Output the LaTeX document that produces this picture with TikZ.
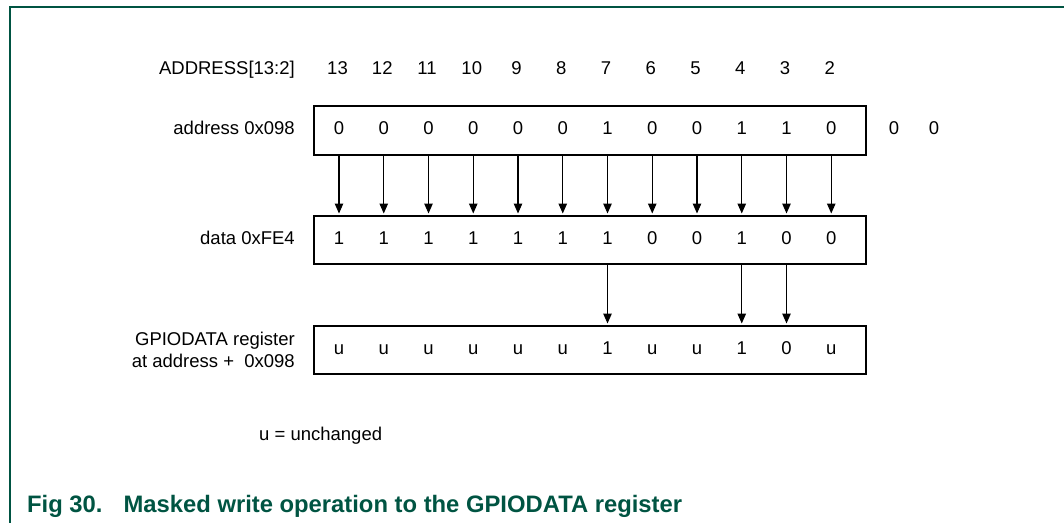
\documentclass[tikz,border=0pt]{standalone}
\usepackage{fontspec}
\setmainfont{Liberation Sans}
\usetikzlibrary{arrows.meta}
\definecolor{nxpgreen}{RGB}{0,84,66}
\begin{document}
\begin{tikzpicture}[x=1pt,y=-1pt,
  txt/.style={font=\fontsize{18.5}{22}\selectfont, inner sep=0pt, anchor=base},
  lbl/.style={txt, anchor=base east},
  regbox/.style={draw, line width=2pt, minimum width=552pt, minimum height=48.5pt, inner sep=0pt, anchor=north west},
  bitarrow/.style={line width=1.1pt, -{Triangle[length=10pt,width=8.5pt]}, shorten >=1pt},
  frameline/.style={draw=nxpgreen, line width=1.5pt},
]
\useasboundingbox (0,0) rectangle (1064,523);
\draw[frameline] (1064,7) -- (10,7) -- (10,523);

\node[regbox] (A) at (313,105) {};
\node[regbox] (D) at (313,214.5) {};
\node[regbox] (R) at (313,324.5) {};

\foreach \b/\av/\dv/\rv [count=\i from 0] in
  {13/0/1/u, 12/0/1/u, 11/0/1/u, 10/0/1/u, 9/0/1/u, 8/0/1/u,
   7/1/1/1, 6/0/0/u, 5/0/0/u, 4/1/1/1, 3/1/0/0, 2/0/0/u} {
  \pgfmathsetmacro{\cx}{339+44.75*\i}
  \node[txt] (h\b) at (\cx-1.5,74) {\b};
  \node[txt] (a\b) at (\cx,134.5) {\av};
  \node[txt] (d\b) at (\cx,244.5) {\dv};
  \node[txt] (r\b) at (\cx,354.5) {\rv};
  \draw[bitarrow] (a\b |- A.south) -- (d\b |- D.north);
}
\foreach \b in {7,4,3} {
  \draw[bitarrow] (d\b |- D.south) -- (r\b |- R.north);
}

\node[txt] (x1) at (894,134.5) {0};
\node[txt] (x0) at (934,134.5) {0};

\node[lbl] (la) at (295,74) {ADDRESS[13:2]};
\node[lbl] (lb) at (295,134.5) {address 0x098};
\node[lbl] (lc) at (295,244.5) {data 0xFE4};
\node[lbl] (lr1) at (295,345.5) {GPIODATA register};
\node[lbl] (lr2) at (295,367.5) {at address + \ 0x098};

\node[txt, anchor=base west] (legend) at (259,440) {u = unchanged};

\node[anchor=base west, inner sep=0pt, text=nxpgreen,
      font=\fontsize{23.8}{28}\selectfont\bfseries] (cap) at (27,512)
  {Fig 30.\hspace{21pt}Masked write operation to the GPIODATA register};
\end{tikzpicture}
\end{document}
